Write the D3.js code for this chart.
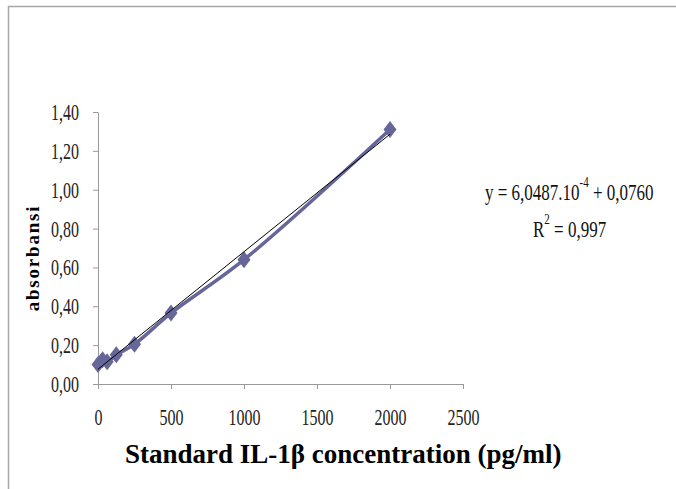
<!DOCTYPE html>
<html>
<head>
<meta charset="utf-8">
<script src="https://cdn.jsdelivr.net/npm/d3@7"></script>
<style>
  body { margin: 0; background: #fff; }
  text { font-family: "Liberation Serif", "Times New Roman", serif; }
</style>
</head>
<body>
<div id="chart"></div>
<script>
// standard curve data
const concentrations = [0, 31.25, 62.5, 125, 250, 500, 1000, 2000];
const absorbances = [0.100, 0.125, 0.115, 0.150, 0.205, 0.365, 0.640, 1.310];
const xTicks = [0, 500, 1000, 1500, 2000, 2500];
const yTicks = [0, 0.2, 0.4, 0.6, 0.8, 1.0, 1.2, 1.4];
const slope = 6.0487e-4;
const intercept = 0.0760;

const width = 676, height = 489;
const margin = {top: 112, right: 213, bottom: 105, left: 98};

let svg = d3.select("#chart").append("svg")
    .attr("width", width)
    .attr("height", height);

// outer frame
svg.append("rect")
    .attr("x", 8.5).attr("y", 6.5)
    .attr("width", width).attr("height", height)
    .attr("fill", "none")
    .attr("stroke", "#a6a6a6")
    .attr("stroke-width", 1.5);

let xScale = d3.scaleLinear()
    .domain([0, 2500])
    .range([margin.left, width - margin.right]);
let yScale = d3.scaleLinear()
    .domain([0, 1.4])
    .range([height - margin.bottom, margin.top]);

let comma = d => d3.format(".2f")(d).replace(".", ",");

// x axis
let xAxis = d3.axisBottom(xScale).tickValues(xTicks).tickSize(5).tickSizeOuter(0).tickFormat(d => d);
let xAx = svg.append("g")
    .attr("transform", "translate(0," + yScale(0) + ")")
    .call(xAxis);
xAx.select(".domain").attr("stroke", "#999");
xAx.selectAll(".tick line").attr("stroke", "#999");
xAx.selectAll(".tick text")
    .attr("font-size", 16)
    .attr("fill", "#222")
    .attr("dy", null)
    .attr("y", 0)
    .attr("transform", "translate(0,41) scale(1,1.4)");

// y axis
let yAxis = d3.axisLeft(yScale).tickValues(yTicks).tickSize(5).tickSizeOuter(0).tickPadding(14).tickFormat(comma);
let yAx = svg.append("g")
    .attr("transform", "translate(" + xScale(0) + ",0)")
    .call(yAxis);
yAx.select(".domain").attr("stroke", "#999");
yAx.selectAll(".tick line").attr("stroke", "#999");
yAx.selectAll(".tick text")
    .attr("font-size", 16)
    .attr("fill", "#222")
    .attr("dy", null)
    .attr("y", 0)
    .attr("transform", "translate(0,7.5) scale(1,1.4)");

// data line (smoothed)
let pts = concentrations.map((c, i) => [xScale(c), yScale(absorbances[i])]);
svg.append("path")
    .attr("d", d3.line().curve(d3.curveCatmullRom)(pts))
    .attr("fill", "none")
    .attr("stroke", "#666699")
    .attr("stroke-width", 3.5);

// markers
svg.selectAll("path.marker").data(pts).enter().append("path")
    .attr("class", "marker")
    .attr("d", d => `M${d[0]},${d[1] - 8.5}L${d[0] + 6.5},${d[1]}L${d[0]},${d[1] + 8.5}L${d[0] - 6.5},${d[1]}Z`)
    .attr("fill", "#666699");

// linear trendline
svg.append("line")
    .attr("x1", xScale(0)).attr("y1", yScale(intercept))
    .attr("x2", xScale(2000)).attr("y2", yScale(intercept + slope * 2000))
    .attr("stroke", "#000")
    .attr("stroke-width", 1);

// equation
let eq = svg.append("text")
    .attr("transform", "translate(485,200) scale(1,1.4)")
    .attr("font-size", 17)
    .attr("fill", "#111");
eq.append("tspan").text("y = 6,0487.10");
eq.append("tspan").attr("font-size", 11).attr("dy", -9).text("-4");
eq.append("tspan").attr("dy", 9).text(" + 0,0760");

let r2 = svg.append("text")
    .attr("transform", "translate(533,237) scale(1,1.4)")
    .attr("font-size", 17)
    .attr("fill", "#111");
r2.append("tspan").text("R");
r2.append("tspan").attr("font-size", 11).attr("dy", -9).text("2");
r2.append("tspan").attr("dy", 9).text(" = 0,997");

// axis titles
svg.append("text")
    .attr("x", 125).attr("y", 463)
    .attr("font-size", 27)
    .attr("font-weight", "bold")
    .text("Standard IL-1β concentration (pg/ml)");

svg.append("text")
    .attr("transform", "translate(38.5,258) rotate(-90)")
    .attr("text-anchor", "middle")
    .attr("font-size", 19)
    .attr("font-weight", "bold")
    .attr("letter-spacing", 1.8)
    .text("absorbansi");
</script>
</body>
</html>
